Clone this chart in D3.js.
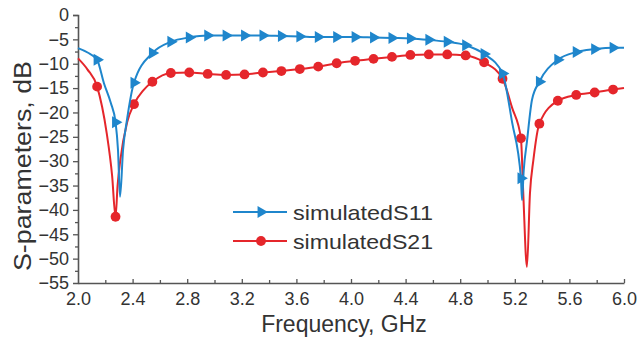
<!DOCTYPE html>
<html>
<head>
<meta charset="utf-8">
<script src="https://cdn.jsdelivr.net/npm/d3@7"></script>
<style>
    body { margin: 0; background: #fff; }
    svg { display: block; }
    .tick-label { font-family: "Liberation Sans", Arial, sans-serif; font-size: 18px; fill: #333; }
    .axis-title { font-family: "Liberation Sans", Arial, sans-serif; font-size: 23px; fill: #333; }
    .legend-label { font-family: "Liberation Sans", Arial, sans-serif; font-size: 21px; fill: #333; }
</style>
</head>
<body>
<div id="chart"></div>
<script>
// Simulated S11 / S21 of a dual-band filter.

const COLORS = { s11: '#1f86cc', s21: '#e5262b' };

// Frequencies where the markers sit (same for both curves), GHz
const markerFreq = [2.14, 2.275, 2.41, 2.545, 2.68, 2.815, 2.95, 3.085, 3.22, 3.355,
    3.49, 3.625, 3.76, 3.895, 4.03, 4.165, 4.30, 4.435, 4.57, 4.705,
    4.84, 4.975, 5.11, 5.245, 5.38, 5.515, 5.65, 5.785, 5.92];

const s11MarkDb = [-9.2, -22.0, -13.9, -7.8, -5.5, -4.6, -4.2, -4.2, -4.2, -4.2,
    -4.3, -4.4, -4.5, -4.5, -4.5, -4.6, -4.7, -4.8, -5.1, -5.5,
    -6.2, -8.0, -12.0, -33.5, -13.7, -9.2, -7.6, -7.0, -6.7];

const s21MarkDb = [-14.7, -41.4, -18.3, -13.7, -11.9, -11.8, -12.1, -12.3, -12.2, -11.8,
    -11.5, -11.1, -10.6, -9.9, -9.4, -9.0, -8.6, -8.2, -8.1, -8.1,
    -8.3, -9.7, -13.1, -25.3, -22.3, -17.6, -16.4, -15.9, -15.3];

// Extra curve samples between markers (ends and the sharp resonance dips)
const s11ExtraFreq = [2.0, 2.07, 2.19, 2.24, 2.293, 2.308, 2.33, 2.359, 5.18, 5.253, 5.265, 5.289, 5.326, 6.0];
const s11ExtraDb = [-6.8, -7.7, -14.0, -18.0, -27.7, -37.3, -27.7, -21.5, -22.0, -38.0, -32.0, -26.0, -17.4, -6.7];

const s21ExtraFreq = [2.0, 2.07, 2.21, 2.25, 2.29, 2.31, 2.36, 2.48, 5.18, 5.262, 5.289, 5.311, 5.336, 6.0];
const s21ExtraDb = [-8.9, -11.2, -24.2, -33.0, -35.0, -29.8, -22.0, -15.4, -19.0, -36.6, -51.7, -36.6, -29.8, -15.0];

const xTicks = [2.0, 2.4, 2.8, 3.2, 3.6, 4.0, 4.4, 4.8, 5.2, 5.6, 6.0];
const yTicks = [0, -5, -10, -15, -20, -25, -30, -35, -40, -45, -50, -55];

const legendNames = ['simulatedS11', 'simulatedS21'];

document.addEventListener('DOMContentLoaded', drawChart);

function buildSeries(markDb, extraFreq, extraDb) {
    const pts = markerFreq.map((f, i) => ({ f: f, db: markDb[i], marker: true }))
        .concat(extraFreq.map((f, i) => ({ f: f, db: extraDb[i], marker: false })));
    pts.sort((a, b) => a.f - b.f);
    return pts;
}

function drawChart() {
    const W = 637, H = 341;
    const plot = { left: 78, right: 624, top: 15, bottom: 283 };

    const svg = d3.select('#chart').append('svg')
        .attr('width', W)
        .attr('height', H);

    const x = d3.scaleLinear().domain([2.0, 6.0]).range([plot.left, plot.right]);
    const y = d3.scaleLinear().domain([0, -55]).range([plot.top, plot.bottom]);

    const axisColor = '#555';

    // Y axis: ticks point outward
    const yAxis = svg.append('g')
        .attr('transform', `translate(${plot.left},0)`)
        .call(d3.axisLeft(y).tickValues(yTicks).tickSize(5).tickPadding(4).tickFormat(d3.format('d')));
    yAxis.selectAll('.tick').filter(d => d === -55).select('line').remove();
    svg.append('g')
        .attr('transform', `translate(${plot.left},0)`)
        .call(d3.axisLeft(y).tickValues(d3.range(-2.5, -55, -5)).tickSize(3).tickFormat(''))
        .select('.domain').remove();

    // X axis: ticks point inward
    const xAxis = svg.append('g')
        .attr('transform', `translate(0,${plot.bottom})`)
        .call(d3.axisBottom(x).tickValues(xTicks).tickSizeInner(-4).tickSizeOuter(0).tickPadding(9).tickFormat(d3.format('.1f')));
    xAxis.selectAll('.tick').filter(d => d === 2.0).select('line').remove();
    svg.append('g')
        .attr('transform', `translate(0,${plot.bottom})`)
        .call(d3.axisBottom(x).tickValues(d3.range(2.2, 6.0, 0.4)).tickSizeInner(-3).tickSizeOuter(0).tickFormat(''))
        .select('.domain').remove();

    svg.selectAll('.domain').attr('stroke', axisColor).attr('stroke-width', 1.6);
    svg.selectAll('.tick line').attr('stroke', axisColor).attr('stroke-width', 1.3);
    svg.selectAll('.tick text')
        .attr('class', 'tick-label')
        .attr('font-size', null)
        .attr('font-family', null);
    xAxis.selectAll('.tick text').attr('dy', '0.71em');

    // Axis titles
    svg.append('text')
        .attr('class', 'axis-title')
        .attr('x', 344)
        .attr('y', 332)
        .attr('text-anchor', 'middle')
        .text('Frequency, GHz');

    svg.append('text')
        .attr('class', 'axis-title')
        .attr('transform', 'translate(31,166) rotate(-90)')
        .attr('text-anchor', 'middle')
        .attr('textLength', 210)
        .attr('lengthAdjust', 'spacingAndGlyphs')
        .text('S-parameters, dB');

    const line = d3.line()
        .x(d => x(d.f))
        .y(d => y(d.db))
        .curve(d3.curveMonotoneX);

    const tri = d3.symbol().type(d3.symbolTriangle).size(62);

    const series = [
        { key: 's11', pts: buildSeries(s11MarkDb, s11ExtraFreq, s11ExtraDb) },
        { key: 's21', pts: buildSeries(s21MarkDb, s21ExtraFreq, s21ExtraDb) }
    ];

    // S21 drawn first so S11 sits on top where they cross
    series.slice().reverse().forEach(s => {
        const color = COLORS[s.key];
        svg.append('path')
            .datum(s.pts)
            .attr('fill', 'none')
            .attr('stroke', color)
            .attr('stroke-width', 2)
            .attr('d', line);

        const marks = s.pts.filter(d => d.marker);
        if (s.key === 's11') {
            svg.selectAll(null).data(marks).enter().append('path')
                .attr('d', tri)
                .attr('fill', color)
                .attr('transform', d => `translate(${x(d.f)},${y(d.db)}) rotate(90)`);
        } else {
            svg.selectAll(null).data(marks).enter().append('circle')
                .attr('cx', d => x(d.f))
                .attr('cy', d => y(d.db))
                .attr('r', 4.9)
                .attr('fill', color);
        }
    });

    // Legend
    const legend = svg.append('g').attr('transform', 'translate(233,212)');
    series.forEach((s, i) => {
        const color = COLORS[s.key];
        const item = legend.append('g').attr('transform', `translate(0,${i * 29})`);
        item.append('line')
            .attr('x1', 0).attr('x2', 54)
            .attr('stroke', color).attr('stroke-width', 2);
        if (s.key === 's11') {
            item.append('path').attr('d', tri).attr('fill', color)
                .attr('transform', 'translate(28,0) rotate(90)');
        } else {
            item.append('circle').attr('cx', 28).attr('r', 4.9).attr('fill', color);
        }
        item.append('text')
            .attr('class', 'legend-label')
            .attr('x', 60)
            .attr('y', 8)
            .attr('textLength', 140)
            .attr('lengthAdjust', 'spacingAndGlyphs')
            .text(legendNames[i]);
    });
}
</script>
</body>
</html>
